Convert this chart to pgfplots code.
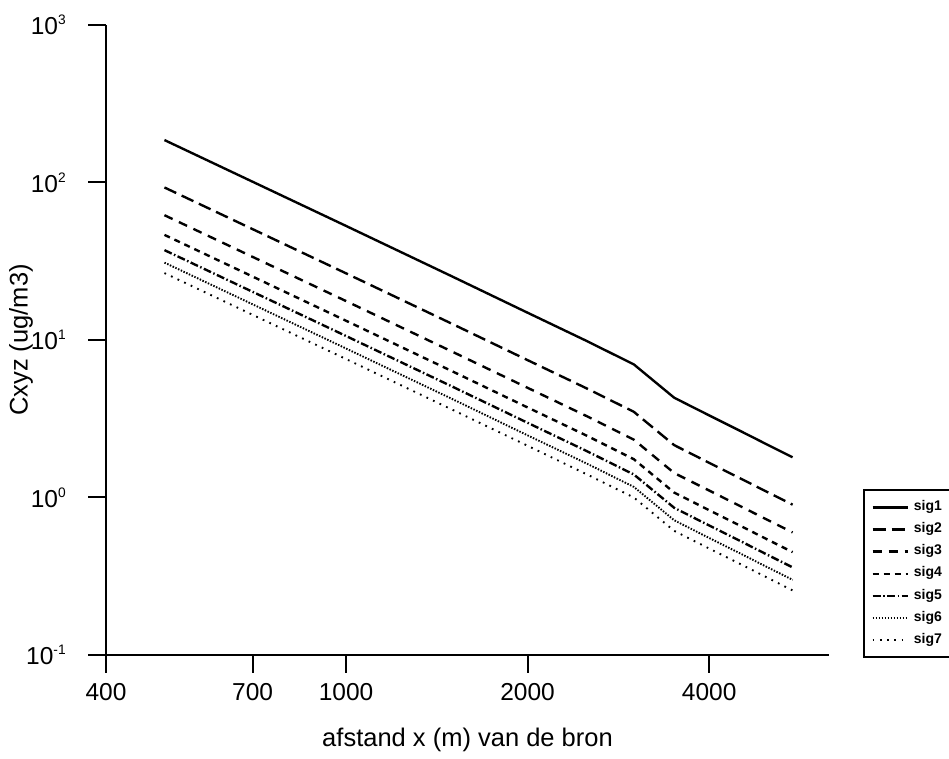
\documentclass[border=0pt]{standalone}
\usepackage{fontspec}
\setmainfont{Liberation Sans}
\usepackage{pgfplots}
\usepackage{pgfplotstable}
\pgfplotsset{compat=1.18}

% concentration per sigma class
\pgfplotstableread{
x     s1    s2     s3     s4     s5     s6     s7
500   186   93     62     46.5   37.2   31     26.6
1000  53    26.5   17.67  13.25  10.6   8.83   7.57
1500  25.3  12.65  8.43   6.33   5.06   4.22   3.61
2000  14.9  7.45   4.97   3.73   2.98   2.48   2.13
2500  9.9   4.95   3.3    2.48   1.98   1.65   1.41
3000  7.0   3.5    2.33   1.75   1.40   1.167  1.0
3500  4.3   2.15   1.43   1.075  0.86   0.717  0.614
4000  3.32  1.66   1.107  0.83   0.664  0.553  0.474
4500  2.65  1.325  0.883  0.663  0.53   0.442  0.379
5000  2.16  1.08   0.72   0.54   0.432  0.36   0.309
5500  1.80  0.90   0.60   0.45   0.36   0.30   0.257
}\conc

\newcommand\tenpow[1]{10\raisebox{0.75ex}{\fontsize{5.5}{6}\selectfont #1}}

\begin{document}
\begin{tikzpicture}
\begin{axis}[
  scale only axis, width=289.2pt, height=252pt,
  xmode=log, ymode=log,
  xmin=400, xmax=6320, ymin=0.1, ymax=1000,
  axis lines=left, axis line style={-, line width=0.8pt},
  tick align=outside, major tick length=7.2pt,
  tick style={line width=0.8pt, black},
  xminorticks=false, yminorticks=false,
  xtick={400,700,1000,2000,4000},
  xticklabels={400,700,1000,2000,4000},
  ytick={0.1,1,10,100,1000},
  yticklabels={\tenpow{-1},\tenpow{0},\tenpow{1},\tenpow{2},\tenpow{3}},
  ticklabel style={font=\fontsize{9.8}{12}\selectfont},
  xticklabel style={yshift=-0.5pt},
  yticklabel style={xshift=-5.4pt},
  xlabel={afstand x (m) van de bron},
  ylabel={Cxyz (ug/m3)},
  label style={font=\fontsize{10.2}{12}\selectfont},
  xlabel style={at={(axis description cs:0.5,-0.135)}, anchor=center},
  ylabel style={at={(axis description cs:-0.1176,0.5)}, anchor=center},
  clip=false,
  legend cell align=left,
  legend style={at={(1.047,-0.005)}, anchor=south west, draw=black,
    line width=0.8pt, row sep=-0.7pt, font=\fontsize{5.6}{9}\selectfont\bfseries},
  legend image code/.code={\draw[#1] (0pt,0pt) -- (14pt,0pt);},
  every axis plot/.append style={black, line width=0.95pt},
]
\addplot[solid] table[x=x,y=s1] {\conc};
\addplot[dash pattern=on 5.2pt off 2.4pt] table[x=x,y=s2] {\conc};
\addplot[dash pattern=on 3.6pt off 2.8pt] table[x=x,y=s3] {\conc};
\addplot[dash pattern=on 2.4pt off 2pt] table[x=x,y=s4] {\conc};
\addplot[dash pattern=on 3.2pt off 1pt on 0.6pt off 1pt] table[x=x,y=s5] {\conc};
\addplot[line width=0.75pt, dash pattern=on 0.6pt off 0.6pt] table[x=x,y=s6] {\conc};
\addplot[line width=0.75pt, dash pattern=on 0.7pt off 2.2pt] table[x=x,y=s7] {\conc};
\legend{sig1,sig2,sig3,sig4,sig5,sig6,sig7}
\coordinate (BL) at (rel axis cs:-0.1466,-0.165);
\coordinate (TR) at (rel axis cs:1.166,1.0397);
\end{axis}
\pgfresetboundingbox
\useasboundingbox (BL) rectangle (TR);
\end{tikzpicture}
\end{document}
